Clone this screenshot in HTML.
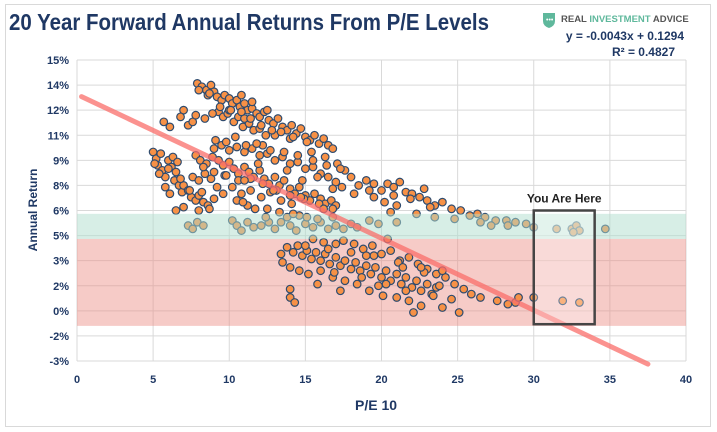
<!DOCTYPE html>
<html><head><meta charset="utf-8"><style>
body{margin:0;background:#fff;width:717px;height:432px;overflow:hidden;font-family:"Liberation Sans",sans-serif}
svg{display:block}
</style></head><body>
<svg id="chart" width="717" height="432" viewBox="0 0 717 432" xmlns="http://www.w3.org/2000/svg">
<rect x="5.5" y="4.5" width="705" height="422" fill="#fff" stroke="#d9d9d9"/>
<text x="9" y="30" font-size="23" font-weight="bold" fill="#1f3864" font-family="'Liberation Sans Narrow','Liberation Sans',sans-serif" textLength="480" lengthAdjust="spacingAndGlyphs">20 Year Forward Annual Returns From P/E Levels</text>
<g>
<path d="M543 13 h12 v8 q0 5 -6 7 q-6 -2 -6 -7z" fill="#5fb89c"/>
<text x="546" y="22" font-size="7" fill="#fff">•••</text>
<text x="561" y="22" font-size="9.5" font-weight="bold" fill="#555">REAL <tspan fill="#5fb89c">INVESTMENT</tspan> ADVICE</text>
</g>
<text x="684" y="40" text-anchor="end" font-size="12" font-weight="bold" fill="#1f3864">y = -0.0043x + 0.1294</text>
<text x="675" y="56" text-anchor="end" font-size="12" font-weight="bold" fill="#1f3864">R² = 0.4827</text>
<g id="grid"></g><g id="redband"></g><g id="points"></g><g id="greenband"></g><g id="trend"></g><g id="box"></g><g id="axes"></g>
<text x="376" y="410" text-anchor="middle" font-size="14" font-weight="bold" fill="#1f3864">P/E 10</text>
<text transform="translate(37,210) rotate(-90)" text-anchor="middle" font-size="12" font-weight="bold" fill="#1f3864">Annual Return</text>
</svg>
<script>
const xTicks=[0,5,10,15,20,25,30,35,40];
const yTicks=[15,13.5,12,10.5,9,7.5,6,4.5,3,1.5,0,-1.5,-3];
const yTickLabels=["15%","14%","12%","11%","9%","8%","6%","5%","3%","2%","0%","-2%","-3%"];
const trendSlope=-0.43, trendIntercept=12.94;
const trendRange=[0.3,37.5];
const greenBand=[5.8,4.3];
const redBand=[4.3,-0.9];
const boxRange=[30,34,6.0,-0.8];
const peValues=[7.9,8.2,8.5,8.8,9.0,9.2,8.6,9.5,9.7,10.0,10.2,10.5,10.7,11.0,11.2,11.5,11.8,12.0,12.3,12.6,12.9,13.2,13.5,13.8,14.1,14.4,14.7,15.0,15.3,15.6,15.9,16.2,16.5,16.8,9.3,9.6,9.9,10.3,10.6,10.9,11.3,11.6,12.0,12.4,8.4,8.9,7.3,7.6,7.0,6.8,5.7,6.1,7.8,10.0,11.0,12.5,13.0,14.0,10.8,11.5,
5.0,5.2,5.3,5.5,5.6,5.8,6.0,6.2,6.4,6.5,6.7,6.9,6.3,6.6,5.8,6.1,7.0,7.3,7.5,7.8,8.0,8.3,8.6,7.0,7.6,8.0,8.4,8.8,9.2,9.6,6.5,8.0,8.7,5.4,5.1,
7.8,8.1,8.5,8.9,9.3,9.6,10.0,10.3,10.6,11.0,11.3,11.6,12.0,12.3,12.6,13.0,13.3,13.6,14.0,14.3,14.6,15.0,15.3,15.6,16.0,16.3,16.7,17.0,9.0,9.5,10.0,10.5,11.0,11.5,12.0,12.5,13.0,13.5,14.0,14.5,15.0,15.5,16.0,16.5,17.0,17.4,10.2,10.8,11.4,12.1,12.7,13.4,14.1,9.7,11.9,14.8,13.8,12.2,15.4,16.3,17.1,17.6,18.0,15.8,16.8,10.5,11.2,
18.5,19.0,19.5,20.0,20.4,20.8,21.2,21.6,22.0,22.5,23.0,23.5,24.0,24.6,25.2,25.8,26.3,26.8,27.5,28.2,28.8,29.5,19.5,20.2,21.0,22.3,23.5,24.8,20.6,18.2,22.8,34.7,
7.3,7.6,7.9,8.3,10.2,10.5,10.8,11.2,11.6,12.1,12.6,13.0,13.4,14.0,14.4,15.0,15.5,16.0,16.5,17.0,17.5,18.0,18.4,19.2,19.8,21.0,26.5,27.2,28.3,30.0,31.5,32.5,32.8,33.0,32.6,15.8,16.8,14.6,13.8,12.4,
13.8,14.2,14.5,14.8,15.1,15.4,15.7,16.0,16.3,16.6,17.0,17.3,17.6,18.0,18.3,18.6,19.0,19.3,19.6,20.0,20.3,20.6,21.0,21.3,21.6,22.0,22.3,22.6,23.0,23.3,23.6,17.5,18.2,18.8,19.4,20.0,20.6,21.2,21.8,22.4,23.0,23.6,24.2,24.8,25.4,25.9,26.5,27.6,28.3,28.8,13.5,14.0,14.6,15.2,16.0,16.8,17.6,18.4,19.2,20.1,21.0,21.8,22.6,15.8,17.3,19.8,14.0,14.0,14.3,13.4,20.4,24.6,25.1,22.1,24.0,17.0,16.2,15.5,22.8,23.8,30.0,31.9,33.0,29.0,
8.0,8.7,9.4,10.1,10.8,11.4,12.1,12.8,13.4,14.2,15.1,9.1,9.8,10.4,11.1,11.8,12.7,13.6,14.5,15.5,16.4,17.3,8.3,9.0,9.8,10.6,11.4,12.2,13.1,14.0,14.9,15.9,16.8,6.0,6.8,7.4,8.2,9.0,10.9,11.7,12.5,13.3,14.2,15.1,19.2,20.8,21.9,23.2,15.0,16.5,18.0,19.5,21.1,22.6,24.0,16.9,18.7,20.3,21.6,23.4,19.0,21.4,11.0,12.9,14.7,16.2];
const returnValues=[13.6,13.4,13.2,13.5,13.1,12.8,12.9,12.6,12.9,12.7,12.4,12.6,12.2,12.4,12.0,12.1,11.8,11.6,11.9,11.4,11.2,11.5,11.0,10.8,11.1,10.6,10.9,10.4,10.2,10.5,10.0,10.3,9.9,9.7,11.9,11.6,11.8,11.3,11.6,11.0,11.2,10.8,10.9,10.5,11.5,11.8,11.1,11.3,12.0,11.6,11.3,11.0,11.7,12.0,11.5,12.0,10.5,10.3,12.9,12.5,
9.5,9.1,8.7,9.4,8.4,8.0,9.0,8.6,7.8,8.3,7.5,7.1,9.2,8.9,7.4,7.0,7.5,7.2,6.8,6.6,6.9,6.5,6.3,6.2,8.0,7.8,8.2,7.9,7.4,7.0,6.0,6.0,6.1,8.2,8.8,
9.3,9.0,8.8,9.2,9.0,8.7,8.9,8.5,8.2,8.6,8.3,8.0,8.4,7.9,7.6,8.0,7.5,7.8,7.3,7.0,7.4,6.9,6.6,7.0,6.7,6.4,6.6,6.3,9.7,9.9,9.6,9.8,9.5,9.7,9.3,9.4,9.0,9.2,8.8,8.9,8.5,8.6,8.2,8.0,7.7,7.4,7.4,7.0,7.2,6.8,7.1,6.6,6.4,8.1,8.8,7.8,8.4,9.9,9.5,9.2,8.8,8.4,8.0,8.0,7.3,6.6,6.3,
7.5,7.8,7.6,7.2,7.6,7.4,7.7,7.1,7.0,6.8,6.6,6.3,6.5,6.1,6.0,5.7,5.8,5.6,5.4,5.4,5.3,5.2,6.8,6.5,6.3,5.8,5.6,5.5,5.9,7.0,7.3,4.9,
5.1,4.9,5.3,5.1,5.4,5.1,4.8,5.3,5.0,5.1,5.3,4.9,5.3,5.1,4.8,5.2,5.0,5.3,4.9,5.1,4.9,5.2,5.0,5.4,5.2,5.3,5.3,5.1,5.1,5.0,4.9,4.9,5.1,4.8,4.7,5.5,5.6,5.7,5.6,5.6,
3.8,3.5,3.9,3.3,3.6,3.1,3.5,3.0,3.4,2.8,3.2,2.7,3.0,2.5,2.9,2.4,2.7,2.2,2.6,2.0,2.4,1.8,2.2,1.6,2.0,1.4,1.8,1.2,1.6,1.0,1.4,4.2,4.0,3.7,3.9,3.4,3.6,3.0,3.2,2.8,2.5,2.2,2.0,1.6,1.3,1.0,0.8,0.6,0.4,0.5,2.9,2.6,2.4,2.2,2.4,2.0,1.8,1.6,1.2,0.9,0.8,0.6,0.3,1.6,1.2,1.5,1.3,0.8,0.5,3.4,4.3,0.7,-0.1,-0.1,0.2,4.0,4.1,4.3,2.3,1.5,0.8,0.6,0.5,0.8,
13.2,13.0,12.2,12.0,11.9,11.5,11.1,10.8,10.7,10.4,10.1,10.2,10.1,10.4,9.9,10.0,9.6,9.5,9.3,9.0,8.7,8.5,8.6,8.3,8.1,7.8,7.9,7.6,7.2,6.9,6.7,6.4,6.1,8.5,7.9,7.2,7.1,6.7,6.5,6.1,6.1,5.9,5.8,5.6,7.2,6.9,6.7,6.2,3.9,3.7,3.5,3.3,2.9,2.6,2.4,2.3,2.0,1.6,1.2,0.9,3.3,2.6,7.8,7.2,6.8,6.1];

const NS="http://www.w3.org/2000/svg";
const X0=77,X1=686,Y0=60,Y1=361;
const xs=v=>X0+(v-0)/(40-0)*(X1-X0);
const ys=v=>Y0+(15-v)/(15-(-3))*(Y1-Y0);
function mk(tag,attrs,parent){const e=document.createElementNS(NS,tag);for(const k in attrs)e.setAttribute(k,attrs[k]);document.getElementById(parent).appendChild(e);return e;}

yTicks.forEach((t,i)=>{
  const l=mk('line',{x1:X0,x2:X1,y1:ys(t),y2:ys(t),stroke:'#d9d9d9','stroke-width':1},'grid');
  
  
  const tx=mk('text',{x:X0-8,y:ys(t)+4,'text-anchor':'end','font-size':11,'font-weight':'bold',fill:'#1f3864'},'axes');
  tx.textContent=yTickLabels[i];
  
  
});
xTicks.forEach(t=>{
  const l=mk('line',{x1:xs(t),x2:xs(t),y1:Y0,y2:Y1,stroke:'#d9d9d9','stroke-width':1},'grid');
  
  
  const tx=mk('text',{x:xs(t),y:Y1+22,'text-anchor':'middle','font-size':11,'font-weight':'bold',fill:'#1f3864'},'axes');
  tx.textContent=t;
  
  
});
const rb=mk('rect',{x:X0,y:ys(redBand[0]),width:X1-X0,height:ys(redBand[1])-ys(redBand[0]),fill:'rgba(236,140,130,0.45)'},'redband');


peValues.forEach((p,i)=>{
  const c=mk('circle',{cx:xs(p),cy:ys(returnValues[i]),r:3.8,fill:'#f79146',stroke:'#2f4b6e','stroke-width':1.2},'points');
  
  
});
const gb=mk('rect',{x:X0,y:ys(greenBand[0]),width:X1-X0,height:ys(greenBand[1])-ys(greenBand[0]),fill:'rgba(176,222,206,0.5)'},'greenband');


const tl=mk('line',{x1:xs(trendRange[0]),y1:ys(trendIntercept+trendSlope*trendRange[0]),x2:xs(trendRange[1]),y2:ys(trendIntercept+trendSlope*trendRange[1]),stroke:'rgba(250,110,105,0.75)','stroke-width':5,'stroke-linecap':'round'},'trend');


const bx=mk('rect',{x:xs(boxRange[0]),y:ys(boxRange[2]),width:xs(boxRange[1])-xs(boxRange[0]),height:ys(boxRange[3])-ys(boxRange[2]),fill:'rgba(255,255,255,0.3)',stroke:'#454545','stroke-width':2.5},'box');


const bt=mk('text',{x:(xs(boxRange[0])+xs(boxRange[1]))/2,y:ys(boxRange[2])-8,'text-anchor':'middle','font-size':12,'font-weight':'bold',fill:'#222'},'box');
bt.textContent='You Are Here';


</script>
</body></html>
